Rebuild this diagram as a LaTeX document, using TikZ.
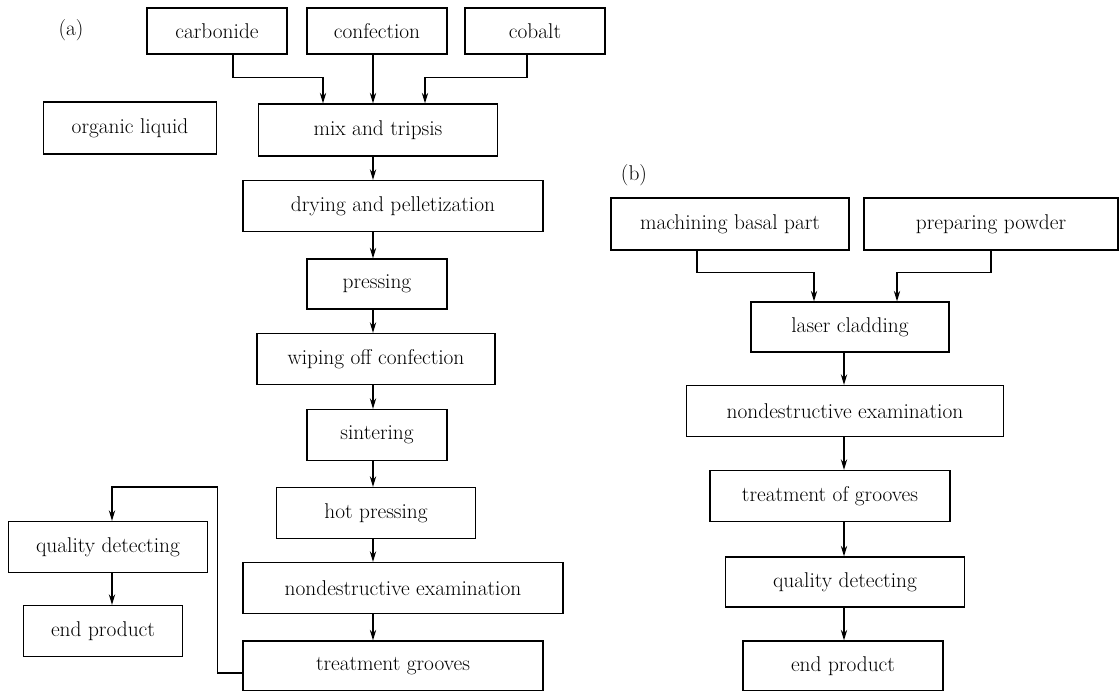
\documentclass[tikz,border=0pt]{standalone}
\usepackage{tikz}
\usetikzlibrary{arrows.meta}

\tikzset{
    paso/.style={draw=black, line width=0.9pt, inner sep=0pt, minimum height=1.275cm, font=\fontsize{15.2}{18}\selectfont},
    flecha/.style={black, line width=0.9pt, -{Stealth[length=7.5pt,width=4.5pt]}},
    linea/.style={black, line width=0.9pt}
}

\begin{document}
\begin{tikzpicture}
            \useasboundingbox (0,0) rectangle (28,-17.275);

            % Ejes de las flechas
            \coordinate (ejeA) at (9.325,0);
            \coordinate (ejeB) at (21.1,0);

            % (a) Materias primas
            \node[font=\fontsize{15.2}{18}\selectfont] (etiqA) at (1.775,-0.75) {(a)};
            \node[paso, minimum width=3.5cm, minimum height=1.15cm] (carbonide) at (5.425,-0.775) {carbonide};
            \node[paso, minimum width=3.5cm, minimum height=1.15cm] (confection) at (9.425,-0.775) {confection};
            \node[paso, minimum width=3.5cm, minimum height=1.15cm] (cobalt) at (13.375,-0.775) {cobalt};
            \node[paso, minimum width=4.325cm, minimum height=1.3cm] (organic) at (3.25,-3.2) {organic liquid};

            % (a) Proceso
            \node[paso, minimum width=5.975cm, minimum height=1.3cm] (mix) at (9.45,-3.25) {mix and tripsis};
            \node[paso, minimum width=7.5cm] (drying) at (9.825,-5.15) {drying and pelletization};
            \node[paso, minimum width=3.5cm, minimum height=1.25cm] (pressing) at (9.425,-7.1) {pressing};
            \node[paso, minimum width=5.95cm] (wiping) at (9.4,-8.975) {wiping off confection};
            \node[paso, minimum width=3.5cm] (sintering) at (9.425,-10.875) {sintering};
            \node[paso, minimum width=4.975cm] (hotpress) at (9.4,-12.825) {hot pressing};
            \node[paso, minimum width=8.0cm] (ndeA) at (10.075,-14.7) {nondestructive examination};
            \node[paso, minimum width=7.5cm, minimum height=1.25cm] (grooves) at (9.825,-16.65) {treatment grooves};
            \node[paso, minimum width=4.975cm] (qualityA) at (2.7,-13.675) {quality detecting};
            \node[paso, minimum width=3.975cm] (endA) at (2.575,-15.775) {end product};

            % (a) Flechas
            \draw[flecha] ([xshift=0.4cm]carbonide.south) -- ++(0,-0.575) -| ([xshift=-1.375cm]mix.north);
            \draw[flecha] (confection.south -| ejeA) -- (mix.north -| ejeA);
            \draw[flecha] ([xshift=-0.2cm]cobalt.south) -- ++(0,-0.575) -| ([xshift=1.175cm]mix.north);
            \draw[flecha] (mix.south -| ejeA) -- (drying.north -| ejeA);
            \draw[flecha] (drying.south -| ejeA) -- (pressing.north -| ejeA);
            \draw[flecha] (pressing.south -| ejeA) -- (wiping.north -| ejeA);
            \draw[flecha] (wiping.south -| ejeA) -- (sintering.north -| ejeA);
            \draw[flecha] (sintering.south -| ejeA) -- (hotpress.north -| ejeA);
            \draw[flecha] (hotpress.south -| ejeA) -- (ndeA.north -| ejeA);
            \draw[flecha] (ndeA.south -| ejeA) -- (grooves.north -| ejeA);
            % Retorno
            \draw[flecha] ([yshift=-0.175cm]grooves.west) -| ++(-0.625,4.65) -| ([xshift=0.1cm]qualityA.north);
            \draw[flecha] ([xshift=0.1cm]qualityA.south) -- ([xshift=0.1cm]qualityA.south |- endA.north);

            % (b) Cajas
            \node[font=\fontsize{15.2}{18}\selectfont] (etiqB) at (15.85,-4.375) {(b)};
            \node[paso, minimum width=5.95cm, minimum height=1.3cm] (machining) at (18.25,-5.6) {machining basal part};
            \node[paso, minimum width=6.35cm, minimum height=1.3cm] (powder) at (24.775,-5.6) {preparing powder};
            \node[paso, minimum width=4.95cm, minimum height=1.25cm] (laser) at (21.25,-8.175) {laser cladding};
            \node[paso, minimum width=7.925cm] (ndeB) at (21.125,-10.275) {nondestructive examination};
            \node[paso, minimum width=6.0cm] (groovesB) at (20.75,-12.4) {treatment of grooves};
            \node[paso, minimum width=5.975cm, minimum height=1.25cm] (qualityB) at (21.125,-14.55) {quality detecting};
            \node[paso, minimum width=5.0cm, minimum height=1.25cm] (endB) at (21.075,-16.65) {end product};

            % (b) Flechas
            \draw[flecha] ([xshift=-0.825cm]machining.south) -- ++(0,-0.55) -| ([xshift=-0.9cm]laser.north);
            \draw[flecha] (powder.south) -- ++(0,-0.55) -| ([xshift=1.175cm]laser.north);
            \draw[flecha] (laser.south -| ejeB) -- (ndeB.north -| ejeB);
            \draw[flecha] (ndeB.south -| ejeB) -- (groovesB.north -| ejeB);
            \draw[flecha] (groovesB.south -| ejeB) -- (qualityB.north -| ejeB);
            \draw[flecha] (qualityB.south -| ejeB) -- (endB.north -| ejeB);
        \end{tikzpicture}
\end{document}
